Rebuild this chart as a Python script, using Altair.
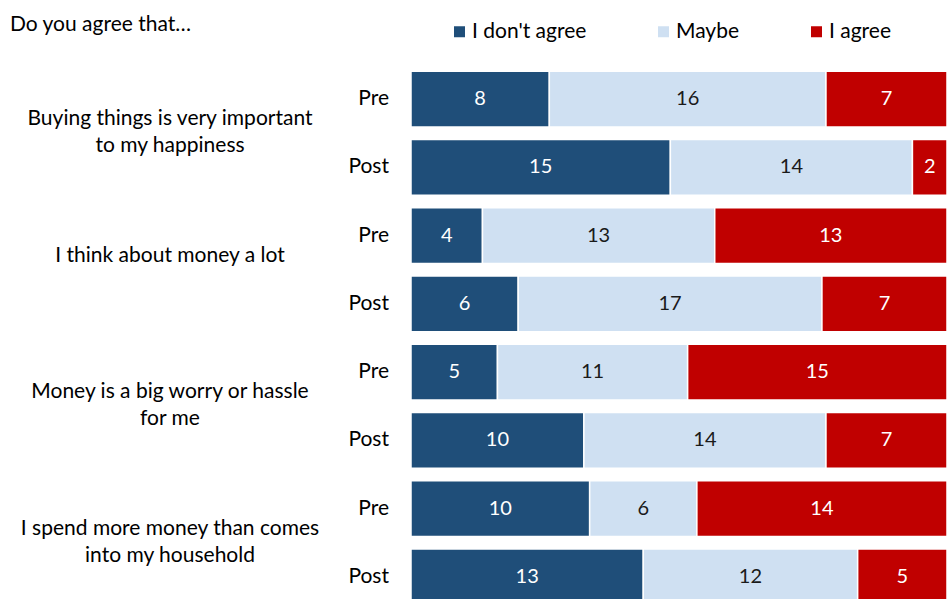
import altair as alt
import pandas as pd

categories = ["I don't agree", "Maybe", "I agree"]
colors = ["#1F4E79", "#CFE0F2", "#C00000"]
question_lines = [
    "Buying things is very important\nto my happiness",
    "I think about money a lot",
    "Money is a big worry or hassle\nfor me",
    "I spend more money than comes\ninto my household",
]
phases = ["Pre", "Post"]
dont_agree = [8, 15, 4, 6, 5, 10, 10, 13]
maybe = [16, 14, 13, 17, 11, 14, 6, 12]
agree = [7, 2, 13, 7, 15, 7, 14, 5]
title_text = "Do you agree that…"

FONT = "Lato"
FS = 21
NFS = 20

rows = []
for i in range(8):
    for k, (cat, vals) in enumerate(zip(categories, [dont_agree, maybe, agree])):
        rows.append({"row": i, "phase": phases[i % 2], "cat": cat, "order": k, "value": vals[i]})
df = pd.DataFrame(rows)

phase_df = pd.DataFrame({"row": list(range(8)), "phase": [phases[i % 2] for i in range(8)]})
q_df = pd.DataFrame({"row": [0, 2, 4, 6], "q": question_lines})
t_df = pd.DataFrame({"t": [title_text]})

yscale = alt.Scale(domain=list(range(8)), range=[0, 546], paddingInner=0.18, paddingOuter=0.09)
Y = alt.Y("row:O", axis=None, scale=yscale)

base = alt.Chart(df).transform_stack(
    stack="value", groupby=["row"], as_=["x0", "x1"], offset="normalize",
    sort=[alt.SortField("order", order="ascending")],
).transform_calculate(mid="(datum.x0 + datum.x1) / 2")

xscale = alt.Scale(domain=[0, 1], nice=False)

bars = base.mark_bar(stroke="white", strokeWidth=1.5, clip=True).encode(
    x=alt.X("x0:Q", axis=None, scale=xscale),
    x2="x1:Q",
    y=Y,
    color=alt.Color(
        "cat:N",
        scale=alt.Scale(domain=categories, range=colors),
        legend=alt.Legend(
            title=None, orient="none", direction="horizontal",
            legendX=38, legendY=-44, symbolType="square", symbolSize=121,
            symbolStrokeWidth=0, labelFont=FONT, labelFontSize=FS, labelColor="#000000",
            columnPadding=66, labelOffset=2, padding=0,
        ),
    ),
)

nums = base.mark_text(font=FONT, fontSize=NFS, baseline="middle", align="center").encode(
    x=alt.X("mid:Q", scale=xscale),
    y=Y,
    text="value:Q",
    color=alt.condition(alt.datum.cat == "Maybe", alt.value("#1a1a1a"), alt.value("#ffffff")),
)

phase_text = alt.Chart(phase_df).mark_text(
    font=FONT, fontSize=FS, align="right", baseline="middle", color="#000000"
).encode(x=alt.value(-22), y=Y, text="phase:N")

q_text = alt.Chart(q_df).mark_text(
    font=FONT, fontSize=FS, align="center", baseline="middle", lineBreak="\n",
    lineHeight=27, dy=20, color="#000000"
).encode(x=alt.value(-241), y=Y, text="q:N")

title = alt.Chart(t_df).mark_text(
    font=FONT, fontSize=FS, align="left", baseline="middle", color="#000000"
).encode(x=alt.value(-401), y=alt.value(-40), text="t:N")

chart = alt.layer(bars, nums, phase_text, q_text, title).properties(
    width=536, height=534,
    background="white",
    autosize=alt.AutoSizeParams(type="none"),
    padding={"left": 411, "top": 65, "right": 0, "bottom": 0},
).configure_view(strokeWidth=0, stroke="transparent")

chart.save("out.html", embed_options={"renderer": "svg", "actions": False})
